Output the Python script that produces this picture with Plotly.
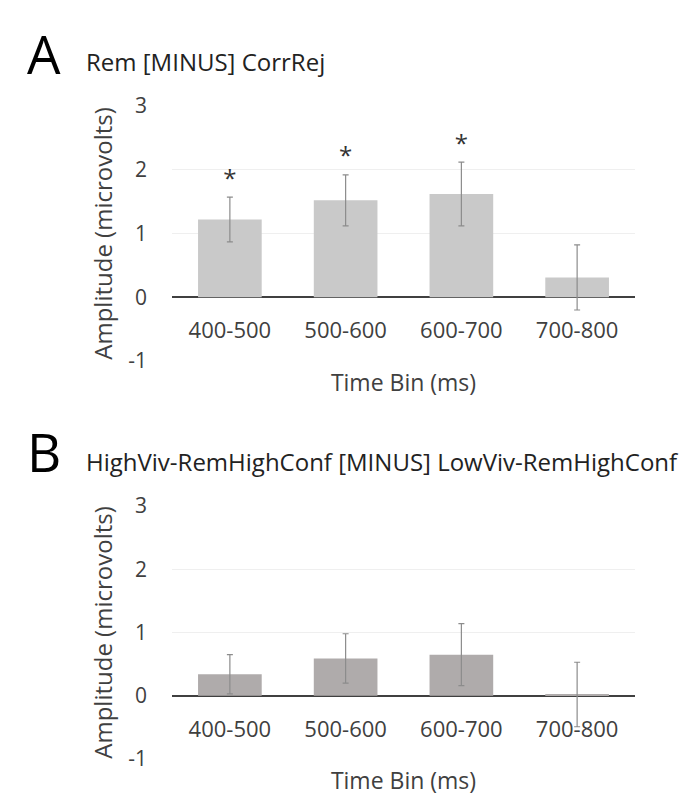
import plotly.graph_objects as go

categories = ["400-500", "500-600", "600-700", "700-800"]

a_values = [1.22, 1.52, 1.62, 0.31]
a_errors = [0.35, 0.40, 0.50, 0.51]
a_sig = [True, True, True, False]

b_values = [0.34, 0.59, 0.65, 0.02]
b_errors = [0.31, 0.39, 0.49, 0.51]
b_sig = [False, False, False, False]

y_ticks = [-1, 0, 1, 2, 3]
y_tick_labels = ["-1", "0", "1", "2", "3"]

a_title = "Rem [MINUS] CorrRej"
b_title = "HighViv-RemHighConf [MINUS] LowViv-RemHighConf"
x_title = "Time Bin (ms)"
y_title = "Amplitude (microvolts)"

FONT = "Open Sans"
W, H = 685, 800

# layout (pixels)
x0_px, x1_px = 172, 635
panels = [
    dict(top=106, bot=361, vals=a_values, errs=a_errors, sig=a_sig, color="#C9C9C9",
         letter="A", title=a_title, letter_y=53, title_y=61),
    dict(top=506, bot=759, vals=b_values, errs=b_errors, sig=b_sig, color="#AFABAB",
         letter="B", title=b_title, letter_y=451, title_y=461),
]

fig = go.Figure()
ymin, ymax = -1, 3
annotations = []
for i, p in enumerate(panels, start=1):
    xa = "x" if i == 1 else f"x{i}"
    ya = "y" if i == 1 else f"y{i}"
    fig.add_trace(go.Bar(
        x=categories, y=p["vals"], xaxis=xa, yaxis=ya,
        marker=dict(color=p["color"], line=dict(width=0)),
        error_y=dict(type="data", array=p["errs"], color="#8c8c8c", thickness=1.2, width=3),
        showlegend=False, hoverinfo="skip",
    ))
    sx = [c for c, s in zip(categories, p["sig"]) if s]
    sy = [v + e + 0.26 for v, e, s in zip(p["vals"], p["errs"], p["sig"]) if s]
    if sx:
        fig.add_trace(go.Scatter(
            x=sx, y=sy, xaxis=xa, yaxis=ya, mode="text", text=["*"] * len(sx),
            textfont=dict(family=FONT, size=24, color="#333333"),
            showlegend=False, hoverinfo="skip",
        ))
    d0 = 1 - p["bot"] / H
    d1 = 1 - p["top"] / H
    zero_pos = d0 + (0 - ymin) / (ymax - ymin) * (d1 - d0)
    xkey = "xaxis" if i == 1 else f"xaxis{i}"
    ykey = "yaxis" if i == 1 else f"yaxis{i}"
    fig.update_layout(**{
        xkey: dict(
            domain=[x0_px / W, x1_px / W], anchor="free", position=zero_pos,
            type="category", showline=False, showgrid=False, zeroline=False,
            ticks="", ticklabelstandoff=18,
            tickfont=dict(family=FONT, size=22, color="#404040"),
            title=dict(text=x_title, font=dict(family=FONT, size=23, color="#404040"), standoff=31),
            automargin=False,
        ),
        ykey: dict(
            domain=[d0, d1], anchor=xa, range=[ymin, ymax],
            tickvals=y_ticks, ticktext=y_tick_labels,
            showgrid=True, gridcolor="#efefef", gridwidth=1,
            zeroline=True, zerolinecolor="#404040", zerolinewidth=2,
            showline=False, ticks="", ticklabelstandoff=24,
            tickfont=dict(family=FONT, size=21, color="#404040"),
            title=dict(text=y_title, font=dict(family=FONT, size=24, color="#404040"), standoff=8),
            automargin=False,
        ),
    })
    annotations.append(dict(
        text=p["letter"], xref="paper", yref="paper", x=25 / W, y=1 - p["letter_y"] / H,
        xanchor="left", yanchor="middle", showarrow=False,
        font=dict(family=FONT, size=53, color="#000000"),
    ))
    annotations.append(dict(
        text=p["title"], xref="paper", yref="paper", x=84 / W, y=1 - p["title_y"] / H,
        xanchor="left", yanchor="middle", showarrow=False,
        font=dict(family=FONT, size=24, color="#222222"),
    ))

fig.update_layout(
    width=W, height=H, margin=dict(l=0, r=0, t=0, b=0),
    paper_bgcolor="white", plot_bgcolor="white",
    bargap=0.45, annotations=annotations,
)

fig.write_html("out.html")
